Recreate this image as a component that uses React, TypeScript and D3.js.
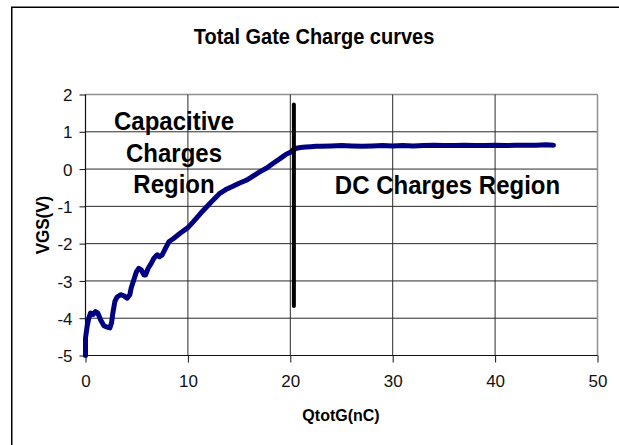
import React, { useRef, useEffect } from "react";
import * as d3 from "d3";

const qtotG = [
  0, 0, 0.16, 0.33, 0.49, 0.75, 0.98, 1.2, 1.47, 1.79, 2.12, 2.38, 2.54, 2.67,
  2.87, 3.09, 3.42, 3.75, 4.07, 4.33, 4.46, 4.72, 4.98, 5.21, 5.44, 5.7, 5.86,
  6.12, 6.42, 6.68, 7.0, 7.23, 7.49, 7.82, 8.14, 8.6, 9.24, 10.0, 10.54, 11.2,
  11.84, 12.5, 13.12, 13.7, 14.4, 15.0, 15.7, 16.4, 17.05, 17.7, 18.3, 19.0,
  19.6, 20.0, 20.3, 20.6, 21, 21.5, 22, 22.5, 23, 24, 25, 26, 27, 28, 29, 30,
  31, 32, 33, 34, 35, 36, 37, 38, 39, 40, 41, 42, 43, 44, 45, 45.7,
];
const vgs = [
  -5.0, -4.53, -4.22, -3.99, -3.86, -3.9, -3.82, -3.86, -4.04, -4.2, -4.24,
  -4.26, -4.13, -3.86, -3.55, -3.43, -3.37, -3.4, -3.46, -3.37, -3.19, -2.97,
  -2.75, -2.66, -2.7, -2.84, -2.84, -2.66, -2.53, -2.39, -2.3, -2.35, -2.3,
  -2.12, -1.95, -1.86, -1.72, -1.57, -1.41, -1.2, -1.01, -0.82, -0.65, -0.55,
  -0.46, -0.38, -0.3, -0.18, -0.07, 0.03, 0.15, 0.28, 0.4, 0.45, 0.52, 0.56,
  0.58, 0.59, 0.6, 0.61, 0.61, 0.62, 0.63, 0.62, 0.61, 0.62, 0.63, 0.62, 0.63,
  0.62, 0.63, 0.64, 0.63, 0.63, 0.64, 0.63, 0.63, 0.64, 0.63, 0.64, 0.64, 0.64,
  0.65, 0.64,
];

const xTicks = [0, 10, 20, 30, 40, 50];
const yTicks = [-5, -4, -3, -2, -1, 0, 1, 2];

// boundary marker between the two regions
const boundaryQ = [20.35];
const boundaryV = [-3.67, 1.73];

const title = "Total Gate Charge curves";
const xLabel = "QtotG(nC)";
const yLabel = "VGS(V)";
const capacitiveLines = ["Capacitive", "Charges", "Region"];
const dcLabel = "DC Charges Region";

const FONT = "'Liberation Sans', Arial, sans-serif";

export default function App() {
  const svgRef = useRef<SVGSVGElement>(null);

  useEffect(() => {
    if (!svgRef.current) return;
    const svg = d3.select(svgRef.current);
    svg.selectAll("*").remove();

    const width = 619;
    const height = 445;
    const left = 85.5;
    const right = 597.5;
    const top = 94.5;
    const bottom = 355.5;

    const xScale = d3.scaleLinear().domain([0, 50]).range([left, right]);
    const yScale = d3.scaleLinear().domain([-5, 2]).range([bottom, top]);

    svg.attr("width", width).attr("height", height);

    svg
      .append("rect")
      .attr("width", width)
      .attr("height", height)
      .attr("fill", "white");

    // outer frame (runs off the right and bottom edge)
    svg
      .append("rect")
      .attr("x", 11.75)
      .attr("y", 7.25)
      .attr("width", 640)
      .attr("height", 460)
      .attr("fill", "none")
      .attr("stroke", "black")
      .attr("stroke-width", 1.5);

    // bold text, slightly stretched vertically like the source
    const label = (
      x: number,
      y: number,
      s: string,
      size: number,
      rotate = 0
    ) =>
      svg
        .append("text")
        .attr(
          "transform",
          `translate(${x},${y}) rotate(${rotate}) scale(1,1.08)`
        )
        .attr("text-anchor", "middle")
        .attr("font-family", FONT)
        .attr("font-weight", "bold")
        .attr("font-size", size)
        .text(s);

    label(314, 44, title, 20);

    // grid
    const grid = svg.append("g");
    yTicks.forEach((t) => {
      grid
        .append("line")
        .attr("x1", left)
        .attr("x2", right)
        .attr("y1", yScale(t))
        .attr("y2", yScale(t))
        .attr("stroke", t === 2 ? "#909090" : "#2a2a2a")
        .attr("stroke-width", t === 2 ? 1.5 : 1);
    });
    xTicks.forEach((t) => {
      grid
        .append("line")
        .attr("x1", xScale(t))
        .attr("x2", xScale(t))
        .attr("y1", top)
        .attr("y2", bottom)
        .attr("stroke", t === 50 ? "#909090" : "#2a2a2a")
        .attr("stroke-width", t === 50 ? 1.5 : 1);
    });

    // axes
    const xAxis = svg
      .append("g")
      .attr("transform", `translate(0,${bottom})`)
      .call(
        d3
          .axisBottom(xScale)
          .tickValues(xTicks)
          .tickSize(7)
          .tickPadding(12)
          .tickFormat((d) => String(d))
      );
    const yAxis = svg
      .append("g")
      .attr("transform", `translate(${left},0)`)
      .call(
        d3
          .axisLeft(yScale)
          .tickValues(yTicks)
          .tickSize(6)
          .tickPadding(7)
          .tickFormat((d) => String(d))
      );
    [xAxis, yAxis].forEach((ax) => {
      ax.select(".domain").attr("stroke", "#111").attr("stroke-width", 1.2);
      ax.selectAll(".tick line").attr("stroke", "#111");
      ax.selectAll(".tick text")
        .attr("font-family", FONT)
        .attr("font-size", 17)
        .attr("fill", "#111");
    });
    xAxis.select(".domain").attr("d", `M${left},0H${right}`);
    yAxis.select(".domain").attr("d", `M0,${top}V${bottom}`);
    xAxis.selectAll(".tick text").attr("dy", "0.71em");
    yAxis.selectAll(".tick text").attr("dy", "0.36em");

    // axis titles
    label(341, 421, xLabel, 16);
    label(48.5, 225, yLabel, 17, -90);

    // region captions
    capacitiveLines.forEach((s, i) => {
      label(174, 130 + i * 31.7, s, 24);
    });
    label(447.5, 194, dcLabel, 24);

    // curve
    const pts = qtotG.map((q, i) => [q, vgs[i]] as [number, number]);
    const line = d3
      .line<[number, number]>()
      .x((d) => xScale(d[0]))
      .y((d) => yScale(d[1]));
    svg
      .append("path")
      .datum(pts)
      .attr("fill", "none")
      .attr("stroke", "#000080")
      .attr("stroke-width", 5)
      .attr("stroke-linejoin", "round")
      .attr("stroke-linecap", "round")
      .attr("d", line);

    // boundary line
    svg
      .append("line")
      .attr("x1", xScale(boundaryQ[0]))
      .attr("x2", xScale(boundaryQ[0]))
      .attr("y1", yScale(boundaryV[0]))
      .attr("y2", yScale(boundaryV[1]))
      .attr("stroke", "black")
      .attr("stroke-width", 4)
      .attr("stroke-linecap", "round");
  }, []);

  return (
    <svg
      ref={svgRef}
      style={{ position: "absolute", left: 0, top: 0, display: "block" }}
    ></svg>
  );
}
